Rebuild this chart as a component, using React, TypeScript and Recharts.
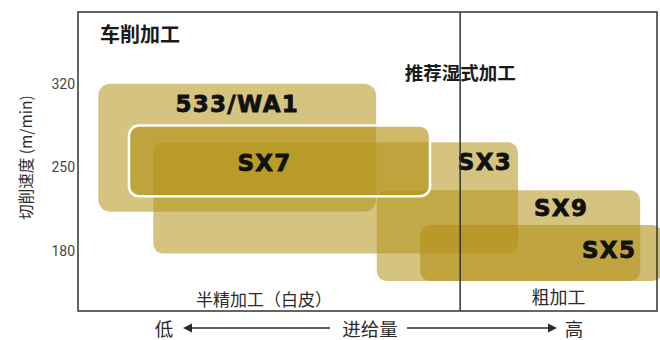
import React from "react";
import {
  ComposedChart,
  XAxis,
  YAxis,
  ReferenceArea,
  ReferenceLine,
  Label,
  Scatter,
} from "recharts";

// grade ranges: feed (relative, 0-100) vs cutting speed (m/min)
const grades = ["533/WA1", "SX3", "SX9", "SX5", "SX7"];
const feedLow = [3.5, 13, 51.6, 59.1, 8.8];
const feedHigh = [51.5, 76, 97.1, 100.9, 60.8];
const speedLow = [213, 178, 155, 155, 226];
const speedHigh = [320, 271, 231, 202, 285];

const speedTicks = [180, 250, 320];
const speedDomain = [130, 380];
const feedDomain = [0, 100];
const roughingFrom = 66;

const title = "车削加工";
const wetNote = "推荐湿式加工";
const semiFinishing = "半精加工（白皮）";
const roughing = "粗加工";
const yTitle = "切削速度 (m/min)";
const xTitle = ["低", "进给量", "高"];

const CJK = '"Noto Sans CJK SC", "Noto Sans", sans-serif';
const INK = "#2b2b2b";

const boxStyle: Record<string, any> = {
  "533/WA1": { fill: "#b39318", opacity: 0.55, stroke: "none", sw: 0, r: 12, anchor: "middle", dx: 0, dy: 20 },
  SX3: { fill: "#b39318", opacity: 0.55, stroke: "none", sw: 0, r: 10, anchor: "end", dx: -6, dy: 20 },
  SX9: { fill: "#b39318", opacity: 0.55, stroke: "none", sw: 0, r: 10, anchor: "end", dx: -52, dy: 18 },
  SX5: { fill: "#b08f15", opacity: 0.6, stroke: "none", sw: 0, r: 10, anchor: "end", dx: -26, dy: 25 },
  SX7: { fill: "#b39318", opacity: 0.65, stroke: "#ffffff", sw: 2.5, r: 10, anchor: "middle", dx: -15, dy: 37 },
};

const boxes = grades.map((name, i) => ({
  name,
  x1: feedLow[i],
  x2: feedHigh[i],
  y1: speedLow[i],
  y2: speedHigh[i],
}));

const points = boxes.map((b) => ({ feed: b.x1, speed: b.y1 }));

const GradeLabel = ({ viewBox, name }: any) => {
  const s = boxStyle[name];
  const x = s.anchor === "middle" ? viewBox.x + viewBox.width / 2 + s.dx : viewBox.x + viewBox.width + s.dx;
  return (
    <text
      x={x}
      y={viewBox.y + s.dy}
      textAnchor={s.anchor}
      dominantBaseline="central"
      fontFamily='"DejaVu Sans", sans-serif'
      fontWeight={700}
      fontSize={23}
      letterSpacing={1.3}
      fill="#111"
      stroke="#111"
      strokeWidth={0.8}
    >
      {name}
    </text>
  );
};

const FeedArrow = ({ viewBox }: any) => {
  const x0 = viewBox.x;
  const y = viewBox.y + 17;
  return (
    <g fontFamily={CJK} fontSize={18.5} fill={INK}>
      <text x={x0 + 86} y={y} textAnchor="middle" dominantBaseline="central">{xTitle[0]}</text>
      <line x1={x0 + 110} x2={x0 + 252} y1={y} y2={y} stroke={INK} strokeWidth={1.5} />
      <polygon points={`${x0 + 105},${y} ${x0 + 114},${y - 4.5} ${x0 + 114},${y + 4.5}`} />
      <text x={x0 + 292} y={y} textAnchor="middle" dominantBaseline="central">{xTitle[1]}</text>
      <line x1={x0 + 329} x2={x0 + 474} y1={y} y2={y} stroke={INK} strokeWidth={1.5} />
      <polygon points={`${x0 + 479},${y} ${x0 + 470},${y - 4.5} ${x0 + 470},${y + 4.5}`} />
      <text x={x0 + 496} y={y} textAnchor="middle" dominantBaseline="central">{xTitle[2]}</text>
    </g>
  );
};

const SpeedTitle = ({ viewBox }: any) => {
  const x = 25;
  const y = viewBox.y + viewBox.height / 2 - 4;
  return (
    <text
      x={x}
      y={y}
      transform={`rotate(-90 ${x} ${y})`}
      textAnchor="middle"
      dominantBaseline="central"
      fontFamily={CJK}
      fontSize={15.5}
      fill={INK}
    >
      {yTitle}
    </text>
  );
};

export default function App() {
  return (
    <div style={{ position: "absolute", left: 0, top: 0, background: "#fff" }}>
      <ComposedChart width={660} height={340} margin={{ top: 12, right: 3, bottom: 0, left: 0 }}>
        <XAxis
          type="number"
          dataKey="feed"
          domain={feedDomain}
          allowDataOverflow
          tick={false}
          tickLine={false}
          axisLine={false}
          height={29}
          label={{ content: (p: any) => <FeedArrow {...p} /> }}
        />
        <YAxis
          type="number"
          dataKey="speed"
          domain={speedDomain}
          ticks={speedTicks}
          allowDataOverflow
          width={78}
          tickLine={false}
          axisLine={false}
          tickSize={0}
          tickMargin={3}
          tick={{ fill: "#444", fontSize: 14, fontFamily: "Roboto, sans-serif" }}
          label={{ content: (p: any) => <SpeedTitle {...p} /> }}
        />
        <Scatter data={points} fill="none" isAnimationActive={false} />
        {boxes.map((b) => {
          const s = boxStyle[b.name];
          return (
            <ReferenceArea
              key={b.name}
              x1={b.x1}
              x2={b.x2}
              y1={b.y1}
              y2={b.y2}
              ifOverflow="visible"
              shape={(p: any) => (
                <rect
                  x={p.x}
                  y={p.y}
                  width={p.width}
                  height={p.height}
                  rx={s.r}
                  fill={s.fill}
                  fillOpacity={s.opacity}
                  stroke={s.stroke}
                  strokeWidth={s.sw}
                />
              )}
            >
              <Label content={(p: any) => <GradeLabel {...p} name={b.name} />} />
            </ReferenceArea>
          );
        })}
        <ReferenceArea
          x1={feedDomain[0]}
          x2={roughingFrom}
          y1={speedDomain[0]}
          y2={speedDomain[1]}
          fill="none"
          stroke="none"
        >
          <Label
            content={({ viewBox }: any) => (
              <g fontFamily={CJK}>
                <text x={viewBox.x + 22} y={viewBox.y + 21} dominantBaseline="central" fontSize={20} fontWeight={700} fill="#1a1a1a">
                  {title}
                </text>
                <text x={viewBox.x + viewBox.width / 2 - 5} y={viewBox.y + viewBox.height - 13} textAnchor="middle" dominantBaseline="central" fontSize={17} fill={INK}>
                  {semiFinishing}
                </text>
              </g>
            )}
          />
        </ReferenceArea>
        <ReferenceArea
          x1={roughingFrom}
          x2={feedDomain[1]}
          y1={speedDomain[0]}
          y2={speedDomain[1]}
          fill="none"
          stroke="none"
        >
          <Label
            content={({ viewBox }: any) => (
              <text x={viewBox.x + viewBox.width / 2} y={viewBox.y + viewBox.height - 15} textAnchor="middle" dominantBaseline="central" fontFamily={CJK} fontSize={18} fill={INK}>
                {roughing}
              </text>
            )}
          />
        </ReferenceArea>
        <ReferenceLine x={roughingFrom} stroke="#333" strokeWidth={1.5}>
          <Label
            content={({ viewBox }: any) => (
              <text x={viewBox.x} y={viewBox.y + 60} textAnchor="middle" dominantBaseline="central" fontFamily={CJK} fontSize={18.5} fontWeight={700} fill="#1a1a1a">
                {wetNote}
              </text>
            )}
          />
        </ReferenceLine>
        <ReferenceArea
          x1={feedDomain[0]}
          x2={feedDomain[1]}
          y1={speedDomain[0]}
          y2={speedDomain[1]}
          fill="none"
          stroke="#333"
          strokeWidth={1.5}
          ifOverflow="visible"
        />
      </ComposedChart>
    </div>
  );
}
